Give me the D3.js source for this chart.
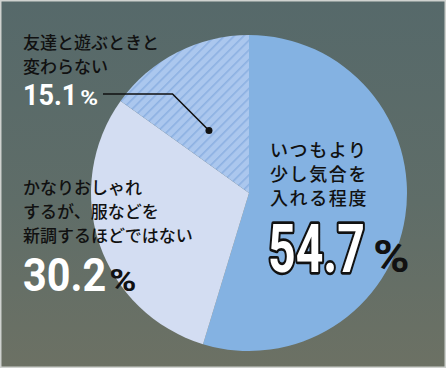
<!DOCTYPE html>
<html>
<head>
<meta charset="utf-8">
<script src="https://cdn.jsdelivr.net/npm/d3@7"></script>
<style>
html,body{margin:0;padding:0;background:#fff;}
svg{display:block;}
</style>
</head>
<body>
<svg id="chart" width="446" height="368"></svg>
<script>
const categories = ["いつもより少し気合を入れる程度", "かなりおしゃれするが、服などを新調するほどではない", "友達と遊ぶときと変わらない"];
const values = [54.7, 30.2, 15.1];
const labelLines = [["いつもより", "少し気合を", "入れる程度"], ["かなりおしゃれ", "するが、服などを", "新調するほどではない"], ["友達と遊ぶときと", "変わらない"]];
const valueLabels = ["54.7", "30.2", "15.1"];

const W = 446, H = 368;
const svg = d3.select("#chart");
const defs = svg.append("defs");

const bg = defs.append("linearGradient").attr("id", "bg").attr("x1", 0).attr("y1", 0).attr("x2", 0).attr("y2", 1);
bg.append("stop").attr("offset", "0%").attr("stop-color", "#56696a");
bg.append("stop").attr("offset", "55%").attr("stop-color", "#5f6d68");
bg.append("stop").attr("offset", "100%").attr("stop-color", "#6c7164");

const hatch = defs.append("pattern").attr("id", "hatch").attr("patternUnits", "userSpaceOnUse")
  .attr("width", 6.8).attr("height", 6.8).attr("patternTransform", "rotate(45)");
hatch.append("rect").attr("width", 6.8).attr("height", 6.8).attr("fill", "#abc7ee");
hatch.append("rect").attr("x", 0).attr("width", 1.6).attr("height", 6.8).attr("fill", "#8db1e2");

svg.append("rect").attr("width", W).attr("height", H).attr("fill", "#cfd2cf");
svg.append("rect").attr("x", 1.5).attr("y", 1.5).attr("width", W - 3).attr("height", H - 3).attr("fill", "url(#bg)");

const cx = 249, cy = 193, R = 158;
const fills = ["#84b2e2", "#d3ddf2", "url(#hatch)"];

const pie = d3.pie().sort(null).value(d => d)(values);
const arc = d3.arc().innerRadius(0).outerRadius(R);
const g = svg.append("g").attr("transform", `translate(${cx},${cy})`);
g.selectAll("path").data(pie).join("path").attr("d", arc).attr("fill", (d, i) => fills[i]);

const jp = "'Noto Sans CJK JP', 'Noto Sans CJK SC', sans-serif";
const num = "Roboto, 'DejaVu Sans', sans-serif";

function bigNumber(x, baseline, text, size, sx, pctSize, psx, pctFill, outline, gap) {
  const t = svg.append("text")
    .attr("transform", `translate(${x},${baseline}) scale(${sx},1)`)
    .attr("font-family", num).attr("font-weight", 700).attr("font-size", size)
    .attr("fill", "#fff").text(text);
  if (outline) t.attr("stroke", "#111").attr("stroke-width", 4 / sx).attr("paint-order", "stroke").attr("stroke-linejoin", "round");
  const w = t.node().getComputedTextLength() * sx;
  svg.append("text")
    .attr("transform", `translate(${x + w + gap},${baseline}) scale(${psx},1)`)
    .attr("font-family", num).attr("font-weight", 700).attr("font-size", pctSize)
    .attr("fill", pctFill).text("%");
}

function lines(x, y0, arr, size, step, ls) {
  arr.forEach((s, i) => svg.append("text").attr("x", x).attr("y", y0 + i * step)
    .attr("font-family", jp).attr("font-weight", 500)
    .attr("font-size", size).attr("letter-spacing", ls).attr("fill", "#111").text(s));
}

// slice 0 label
lines(270, 157, labelLines[0], 18, 24, 1.6);
bigNumber(268, 272, valueLabels[0], 66, 0.73, 45, 1.1, "#111", true, 8);

// slice 1 label
lines(23, 194, labelLines[1], 17, 24, 0);
bigNumber(23, 291, valueLabels[1], 47, 0.88, 32, 1.15, "#111", false, 3);

// slice 2 label
lines(23, 49, labelLines[2], 17, 23.5, 0);
bigNumber(23, 105, valueLabels[2], 30, 0.9, 21, 1.15, "#fff", false, 3);

// leader line for slice 2
const s2 = pie[2];
const ang = s2.startAngle + 0.4 * (s2.endAngle - s2.startAngle);
const dr = R * 0.47;
const dot = [cx + dr * Math.sin(ang), cy - dr * Math.cos(ang)];
const ly = 94;
const elbow = [dot[0] - (dot[1] - ly), ly];
svg.append("path").attr("d", d3.line()([[103, ly], elbow, dot]))
  .attr("fill", "none").attr("stroke", "#111").attr("stroke-width", 1.6);
svg.append("circle").attr("cx", dot[0]).attr("cy", dot[1]).attr("r", 3.5).attr("fill", "#111");
</script>
</body>
</html>
